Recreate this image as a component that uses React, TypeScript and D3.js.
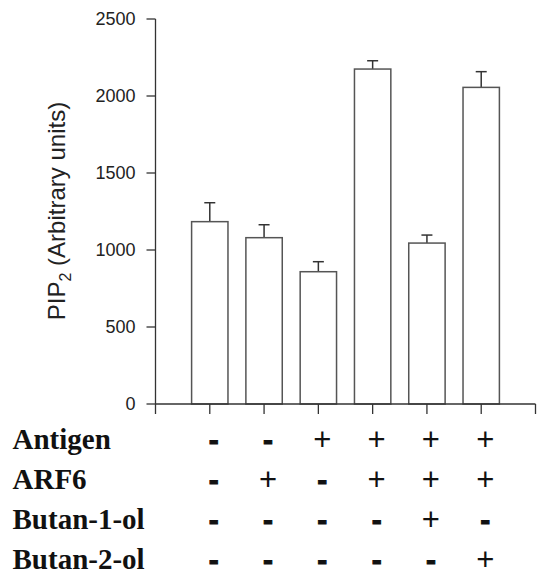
import React from "react";
import * as d3 from "d3";

const categories = ["1", "2", "3", "4", "5", "6"];
const values = [1184, 1080, 859, 2175, 1045, 2056];
const errors = [123, 84, 65, 54, 52, 102];
const yTicks = [0, 500, 1000, 1500, 2000, 2500];
const rowLabels = ["Antigen", "ARF6", "Butan-1-ol", "Butan-2-ol"];
const antigen = ["-", "-", "+", "+", "+", "+"];
const arf6 = ["-", "+", "-", "+", "+", "+"];
const butan1 = ["-", "-", "-", "-", "+", "-"];
const butan2 = ["-", "-", "-", "-", "-", "+"];
const rows = [antigen, arf6, butan1, butan2];

const W = 544;
const H = 577;
const axisColor = "#333";
const barColor = "#555";

export default function App() {
  const x = d3.scaleLinear().domain([0, categories.length + 1]).range([155.5, 535.5]);
  const y = d3.scaleLinear().domain([0, 2500]).range([404, 19]);
  const step = x(1) - x(0);
  const barW = step * 0.67;
  const capW = 11;
  const rowY = d3.scaleLinear().domain([0, 1]).range([448.5, 488.5]);
  const xTicks = d3.range(0, categories.length + 2);

  return (
    <svg
      width={W}
      height={H}
      style={{ position: "absolute", left: 0, top: 0, background: "#fff" }}
      fontFamily="'Liberation Sans', Arial, sans-serif"
    >
      <rect x={0} y={0} width={W} height={H} fill="#fff" />
      {/* bars */}
      {values.map((v, i) => {
        const cx = x(i + 1);
        return (
          <g key={i}>
            <line
              x1={cx}
              x2={cx}
              y1={y(v)}
              y2={y(v + errors[i])}
              stroke="#333"
              strokeWidth={1.5}
            />
            <line
              x1={cx - capW / 2}
              x2={cx + capW / 2}
              y1={y(v + errors[i])}
              y2={y(v + errors[i])}
              stroke="#333"
              strokeWidth={1.5}
            />
            <rect
              x={cx - barW / 2}
              y={y(v)}
              width={barW}
              height={y(0) - y(v)}
              fill="#fff"
              stroke={barColor}
              strokeWidth={1.5}
            />
          </g>
        );
      })}
      {/* y axis */}
      <line x1={x(0)} x2={x(0)} y1={y(2500)} y2={y(0)} stroke={axisColor} strokeWidth={1.3} />
      {yTicks.map((t) => (
        <g key={t}>
          <line x1={x(0) - 9} x2={x(0)} y1={y(t)} y2={y(t)} stroke={axisColor} strokeWidth={1.3} />
          <text
            x={x(0) - 20}
            y={y(t)}
            textAnchor="end"
            dominantBaseline="central"
            fontSize={18}
            fill="#222"
          >
            {t}
          </text>
        </g>
      ))}
      {/* x axis */}
      <line x1={x(0)} x2={x(categories.length + 1)} y1={y(0)} y2={y(0)} stroke={axisColor} strokeWidth={1.3} />
      {xTicks.map((t) => (
        <line key={t} x1={x(t)} x2={x(t)} y1={y(0)} y2={y(0) + 10} stroke={axisColor} strokeWidth={1.3} />
      ))}
      {/* y label */}
      <text
        transform={`translate(65, 211) rotate(-90)`}
        textAnchor="middle"
        fontSize={24}
        fill="#222"
      >
        PIP
        <tspan fontSize={16} dy={6}>2</tspan>
        <tspan dy={-6}> (Arbitrary units)</tspan>
      </text>
      {/* condition table */}
      {rowLabels.map((lab, r) => (
        <g key={lab}>
          <text
            x={12.5}
            y={rowY(r)}
            fontFamily="'Liberation Serif', 'Times New Roman', serif"
            fontWeight="bold"
            fontSize={29}
            fill="#111"
          >
            {lab}
          </text>
          {rows[r].map((s, i) => (
            <text
              key={i}
              x={x(i + 1) + 4}
              y={rowY(r) - 9}
              textAnchor="middle"
              dominantBaseline="central"
              fontSize={s === "+" ? 31 : 30}
              fontWeight={s === "+" ? "normal" : "bold"}
              fill="#111"
              stroke={s === "+" ? "none" : "#111"}
              strokeWidth={s === "+" ? 0 : 1}
            >
              {s}
            </text>
          ))}
        </g>
      ))}
    </svg>
  );
}
